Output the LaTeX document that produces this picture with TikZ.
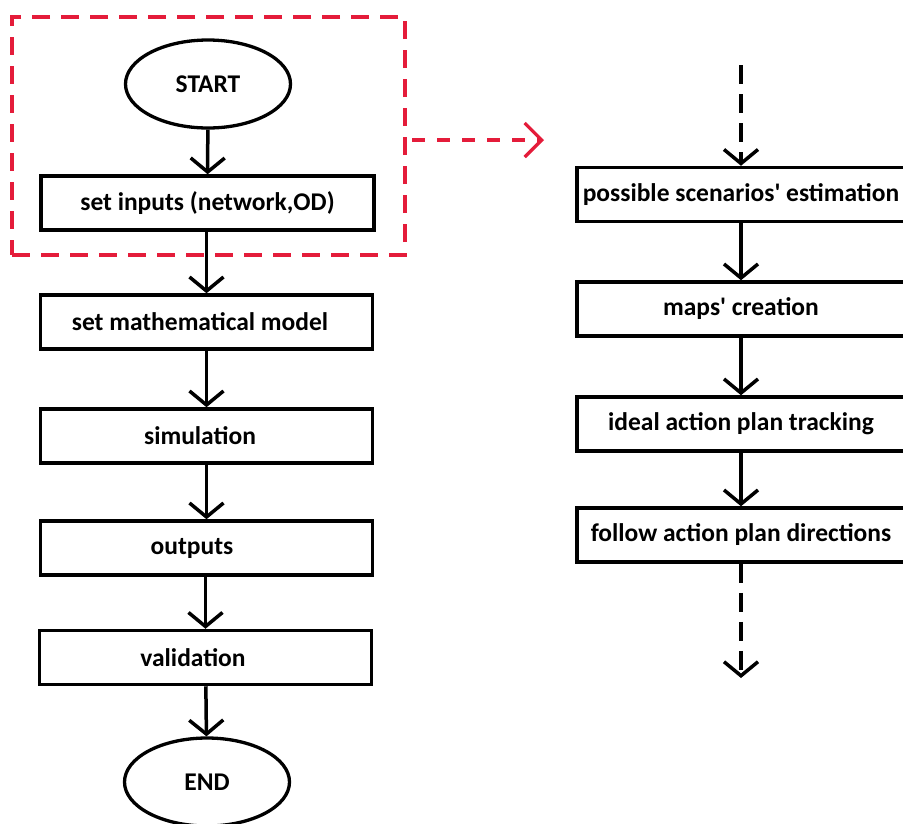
\documentclass[tikz,border=0pt]{standalone}
\usepackage{fontspec}
\newfontfamily\calfont{Carlito}
\usetikzlibrary{arrows.meta,shapes.geometric}
\definecolor{dashred}{RGB}{228,28,58}
\begin{document}
\begin{tikzpicture}[x=1pt,y=-1pt,
  lbl/.style={font=\calfont\fontsize{25.5}{30}\selectfont\bfseries},
  box/.style={draw, line width=3.5pt, minimum width=332pt, minimum height=54pt, inner sep=0pt, lbl},
  pad/.style={execute at end node={\hspace*{#1}}},
  term/.style={draw, ellipse, line width=3.3pt, minimum width=165pt, minimum height=88pt, inner sep=0pt, lbl},
  flow/.style={draw, line width=3.5pt, -{Straight Barb[length=14pt,width=34pt,line width=3.5pt]}},
  dflow/.style={flow, dash pattern=on 19pt off 10pt},
  group/.style={draw=dashred, line width=3.5pt, dash pattern=on 18pt off 11pt, minimum width=393pt, minimum height=238pt, inner sep=0pt},
  link/.style={draw=dashred, line width=3.3pt, dash pattern=on 13pt off 12pt, -{Straight Barb[length=17pt,width=34pt,line width=3.3pt]}}
]
\useasboundingbox (0,0) rectangle (903,823);
% left column
\node[term] (start) at (208,84) {START};
\node[box, minimum width=333pt] (inp) at (207.5,203) {set inputs (network,OD)};
\node[box, pad=13pt] (math) at (206.5,322) {set mathematical model};
\node[box, pad=13pt] (sim) at (206.5,436) {simulation};
\node[box, pad=29pt] (out) at (206.5,548) {outputs};
\node[box, pad=25pt] (val) at (205.5,657.5) {validation};
\node[term] (end) at (207,782) {END};
\path[flow] (start) -- (inp);
\path[flow] (inp.south -| math.north) -- (math.north);
\path[flow] (math) -- (sim);
\path[flow] (sim) -- (out);
\path[flow] (out.south -| val.north) -- (val.north);
\path[flow] (val) -- (end);
% red group
\node[group] (grp) at (208.5,136) {};
\coordinate (ls) at (412,140);
\coordinate (le) at (544,140);
\path[link] (ls) -- (le);
% right column
\node[box, minimum width=328pt] (p1) at (741,194.5) {possible scenarios' estimation};
\node[box, minimum width=328pt] (p2) at (741,309) {maps' creation};
\node[box, minimum width=328pt] (p3) at (741,424) {ideal action plan tracking};
\node[box, minimum width=328pt] (p4) at (741,535) {follow action plan directions};
\coordinate (rt) at (741,65);
\coordinate (rb) at (741,678);
\path[dflow] (rt) -- (p1);
\path[flow] (p1) -- (p2);
\path[flow] (p2) -- (p3);
\path[flow] (p3) -- (p4);
\path[dflow] (p4) -- (rb);
\end{tikzpicture}
\end{document}
